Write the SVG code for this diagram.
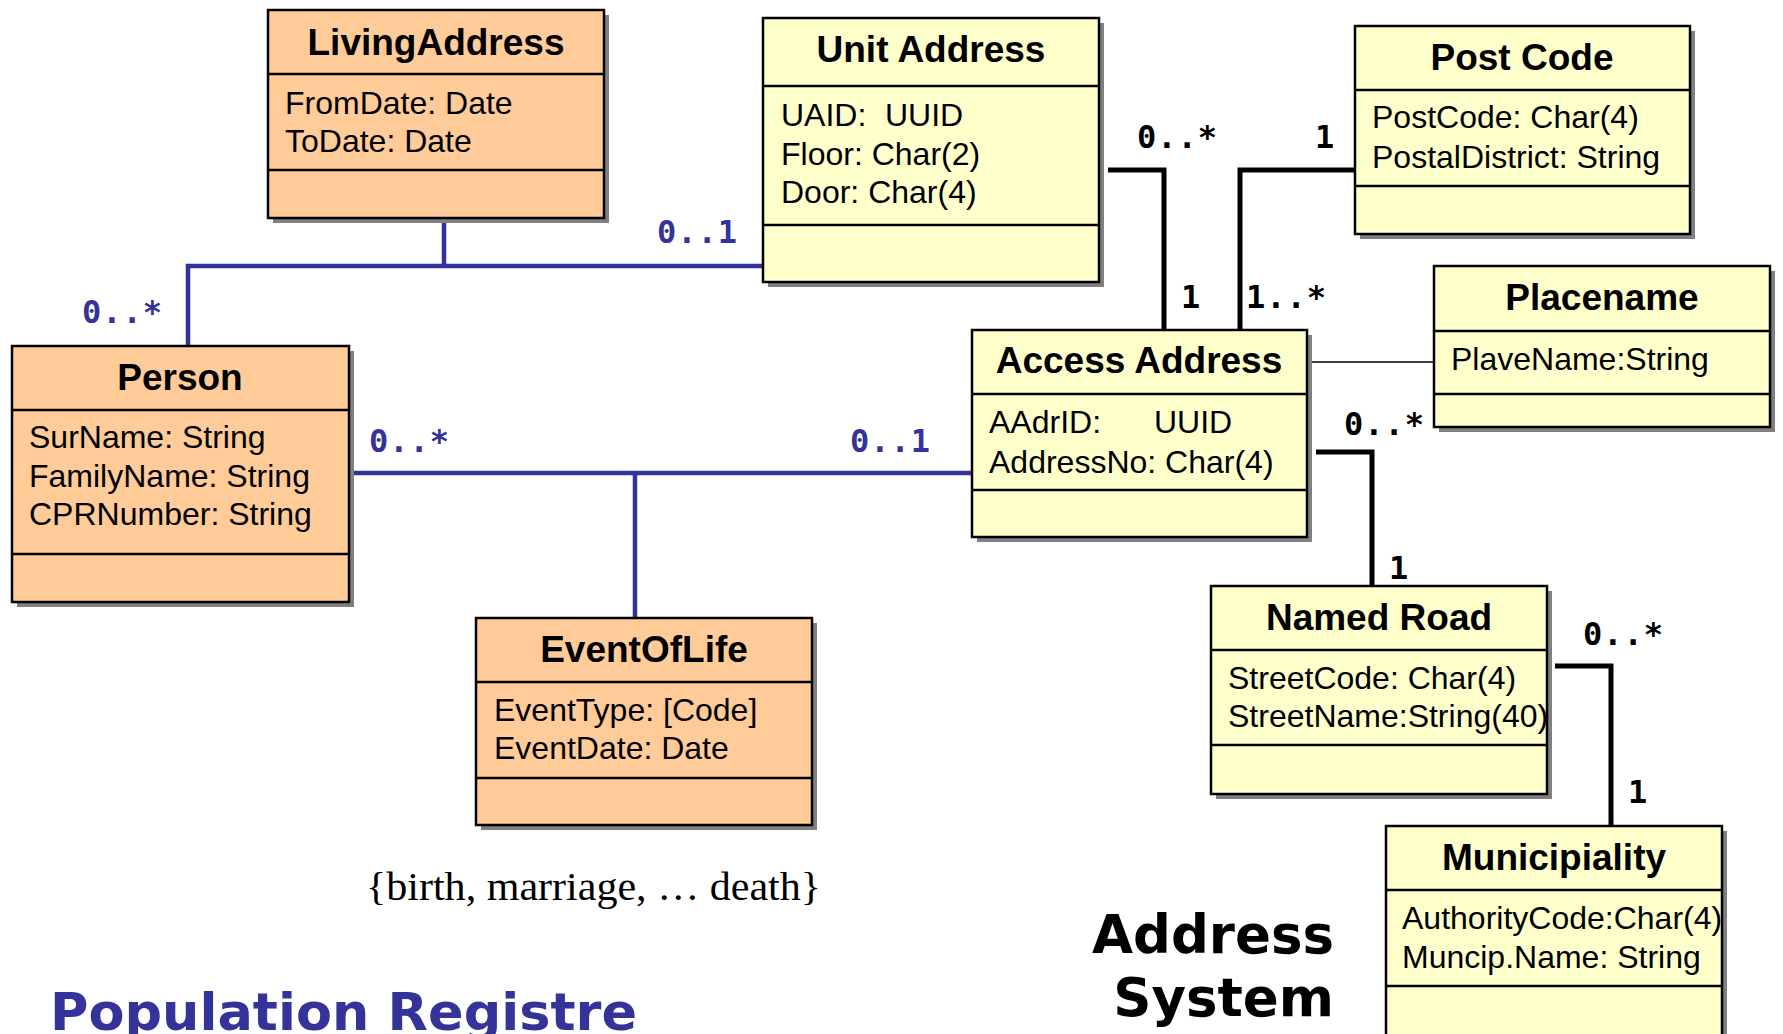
<svg xmlns="http://www.w3.org/2000/svg" width="1783" height="1034" viewBox="0 0 1783 1034">
<style>
.shadow{fill:#808080;stroke:none}
.box{stroke:#000;stroke-width:2.5}
.orange{fill:#FFCC99}
.yellow{fill:#FFFFCC}
.sep{stroke:#000;stroke-width:2.5}
.title{font-family:"Liberation Sans",Arial,sans-serif;font-weight:bold;font-size:37px;fill:#000;text-anchor:middle}
.attr{font-family:"Liberation Sans",Arial,sans-serif;font-size:32px;fill:#000}
.blue{fill:none;stroke:#333399;stroke-width:4.5}
.black{fill:none;stroke:#000;stroke-width:5}
.thin{fill:none;stroke:#000;stroke-width:1.5}
.mb{font-family:"DejaVu Sans Mono",monospace;font-size:32px;font-weight:bold;fill:#333399;letter-spacing:1px}
.mk{font-family:"DejaVu Sans Mono",monospace;font-size:32px;font-weight:bold;fill:#000;letter-spacing:1px}
</style>
<rect width="1783" height="1034" fill="#fff"/>

<g id="connectors">
<path class="blue" d="M444,218 V266"/>
<path class="blue" d="M188,346 V266 H763"/>
<path class="blue" d="M348,473 H972"/>
<path class="blue" d="M635,473 V618"/>
<path class="black" d="M1108,170 H1164 V330"/>
<path class="black" d="M1355,170 H1240 V330"/>
<path class="thin" d="M1306,362 H1434"/>
<path class="black" d="M1316,452 H1372 V586"/>
<path class="black" d="M1555,666 H1611 V826"/>
<text class="mb" x="657" y="243">0..1</text>
<text class="mb" x="82" y="323">0..*</text>
<text class="mb" x="369" y="452">0..*</text>
<text class="mb" x="850" y="452">0..1</text>
<text class="mk" x="1137" y="148">0..*</text>
<text class="mk" x="1315" y="148">1</text>
<text class="mk" x="1181" y="308">1</text>
<text class="mk" x="1246" y="308">1..*</text>
<text class="mk" x="1344" y="435">0..*</text>
<text class="mk" x="1389" y="579">1</text>
<text class="mk" x="1583" y="645">0..*</text>
<text class="mk" x="1628" y="803">1</text>
</g>

<g id="LivingAddress">
<rect class="shadow" x="273" y="15" width="336" height="208"/>
<rect class="box orange" x="268" y="10" width="336" height="208"/>
<line class="sep" x1="268" y1="74" x2="604" y2="74"/>
<line class="sep" x1="268" y1="170" x2="604" y2="170"/>
<text class="title" x="436" y="55">LivingAddress</text>
<text class="attr" x="285" y="114">FromDate: Date</text>
<text class="attr" x="285" y="152">ToDate: Date</text>
</g>

<g id="Person">
<rect class="shadow" x="17" y="351" width="337" height="256"/>
<rect class="box orange" x="12" y="346" width="337" height="256"/>
<line class="sep" x1="12" y1="410" x2="349" y2="410"/>
<line class="sep" x1="12" y1="554" x2="349" y2="554"/>
<text class="title" x="180" y="390">Person</text>
<text class="attr" x="29" y="448">SurName: String</text>
<text class="attr" x="29" y="487">FamilyName: String</text>
<text class="attr" x="29" y="525">CPRNumber: String</text>
</g>

<g id="EventOfLife">
<rect class="shadow" x="481" y="623" width="336" height="207"/>
<rect class="box orange" x="476" y="618" width="336" height="207"/>
<line class="sep" x1="476" y1="682" x2="812" y2="682"/>
<line class="sep" x1="476" y1="778" x2="812" y2="778"/>
<text class="title" x="644" y="662">EventOfLife</text>
<text class="attr" x="494" y="721">EventType: [Code]</text>
<text class="attr" x="494" y="759">EventDate: Date</text>
</g>

<g id="UnitAddress">
<rect class="shadow" x="768" y="23" width="336" height="264"/>
<rect class="box yellow" x="763" y="18" width="336" height="264"/>
<line class="sep" x1="763" y1="86" x2="1099" y2="86"/>
<line class="sep" x1="763" y1="225" x2="1099" y2="225"/>
<text class="title" x="931" y="62">Unit Address</text>
<text class="attr" x="781" y="126">UAID:</text>
<text class="attr" x="885" y="126">UUID</text>
<text class="attr" x="781" y="165">Floor: Char(2)</text>
<text class="attr" x="781" y="203">Door: Char(4)</text>
</g>

<g id="PostCode">
<rect class="shadow" x="1360" y="31" width="335" height="208"/>
<rect class="box yellow" x="1355" y="26" width="335" height="208"/>
<line class="sep" x1="1355" y1="90" x2="1690" y2="90"/>
<line class="sep" x1="1355" y1="186" x2="1690" y2="186"/>
<text class="title" x="1522" y="70">Post Code</text>
<text class="attr" x="1372" y="128">PostCode: Char(4)</text>
<text class="attr" x="1372" y="168">PostalDistrict: String</text>
</g>

<g id="Placename">
<rect class="shadow" x="1439" y="271" width="336" height="161"/>
<rect class="box yellow" x="1434" y="266" width="336" height="161"/>
<line class="sep" x1="1434" y1="331" x2="1770" y2="331"/>
<line class="sep" x1="1434" y1="394" x2="1770" y2="394"/>
<text class="title" x="1602" y="310">Placename</text>
<text class="attr" x="1451" y="370">PlaveName:String</text>
</g>

<g id="AccessAddress">
<rect class="shadow" x="977" y="335" width="335" height="207"/>
<rect class="box yellow" x="972" y="330" width="335" height="207"/>
<line class="sep" x1="972" y1="394" x2="1307" y2="394"/>
<line class="sep" x1="972" y1="490" x2="1307" y2="490"/>
<text class="title" x="1139" y="373">Access Address</text>
<text class="attr" x="989" y="433">AAdrID:</text>
<text class="attr" x="1154" y="433">UUID</text>
<text class="attr" x="989" y="473">AddressNo: Char(4)</text>
</g>

<g id="NamedRoad">
<rect class="shadow" x="1216" y="591" width="336" height="208"/>
<rect class="box yellow" x="1211" y="586" width="336" height="208"/>
<line class="sep" x1="1211" y1="650" x2="1547" y2="650"/>
<line class="sep" x1="1211" y1="745" x2="1547" y2="745"/>
<text class="title" x="1379" y="630">Named Road</text>
<text class="attr" x="1228" y="689">StreetCode: Char(4)</text>
<text class="attr" x="1228" y="727">StreetName:String(40)</text>
</g>

<g id="Municipiality">
<rect class="shadow" x="1391" y="831" width="336" height="220"/>
<rect class="box yellow" x="1386" y="826" width="336" height="220"/>
<line class="sep" x1="1386" y1="890" x2="1722" y2="890"/>
<line class="sep" x1="1386" y1="986" x2="1722" y2="986"/>
<text class="title" x="1554" y="870">Municipiality</text>
<text class="attr" x="1402" y="929">AuthorityCode:Char(4)</text>
<text class="attr" x="1402" y="968">Muncip.Name: String</text>
</g>

<text x="366" y="900" font-family="'Liberation Serif','Times New Roman',serif" font-size="40" textLength="455" lengthAdjust="spacingAndGlyphs">{birth, marriage, … death}</text>
<text x="50" y="1030" font-family="'DejaVu Sans',Verdana,sans-serif" font-weight="bold" font-size="52" fill="#333399" textLength="587" lengthAdjust="spacingAndGlyphs">Population Registre</text>
<text x="1334" y="953" font-family="'DejaVu Sans',Verdana,sans-serif" font-weight="bold" font-size="53" fill="#000" text-anchor="end">Address</text>
<text x="1334" y="1016" font-family="'DejaVu Sans',Verdana,sans-serif" font-weight="bold" font-size="53" fill="#000" text-anchor="end">System</text>
</svg>
